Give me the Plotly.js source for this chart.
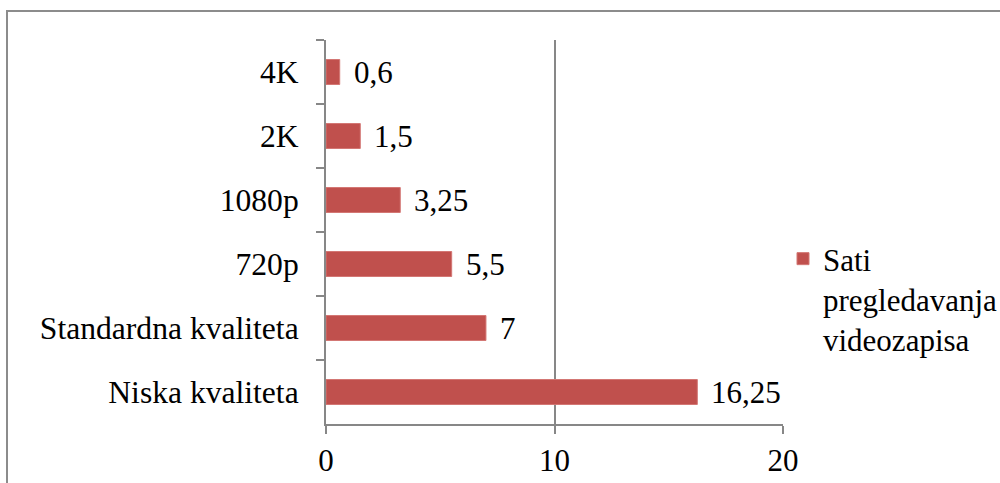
<!DOCTYPE html>
<html>
<head>
<meta charset="utf-8">
<script src="https://cdn.plot.ly/plotly-3.0.1.min.js"></script>
<style>
html,body{margin:0;padding:0;background:#fff;overflow:hidden;}
#frame{position:absolute;left:6px;top:10px;width:1100px;height:600px;border:2px solid #8c8c8c;box-sizing:border-box;}
#chart{position:absolute;left:0;top:0;width:1000px;height:483px;}
</style>
</head>
<body>
<div id="frame"></div>
<div id="chart"></div>
<script>
const categories = ["4K", "2K", "1080p", "720p", "Standardna kvaliteta", "Niska kvaliteta"];
const values = [0.6, 1.5, 3.25, 5.5, 7, 16.25];
const seriesName = "Sati<br>pregledavanja<br>videozapisa";
const xTicks = [0, 10, 20];

const labels = values.map(v => String(v).replace('.', ','));
const font = {family: "Liberation Serif", size: 31, color: "#000"};
const catFont = {family: "Liberation Serif", size: 31.6, color: "#000"};

const trace = {
  type: "bar",
  orientation: "h",
  y: categories,
  x: values,
  name: seriesName,
  marker: {color: "#C0504D", line: {color: "#D37673", width: 1}},
  hoverinfo: "x+y"
};

const annotations = values.map((v, i) => ({
  x: v,
  y: categories[i],
  xref: "x",
  yref: "y",
  text: labels[i],
  showarrow: false,
  xanchor: "left",
  yanchor: "middle",
  xshift: 12,
  font: font
}));

const layout = {
  width: 1000,
  height: 483,
  margin: {l: 326, r: 216, t: 40, b: 59},
  paper_bgcolor: "rgba(0,0,0,0)",
  plot_bgcolor: "rgba(0,0,0,0)",
  font: font,
  bargap: 0.61,
  showlegend: true,
  annotations: annotations,
  legend: {
    xref: "container", yref: "container",
    x: 0.783, xanchor: "left",
    y: 1 - 232 / 483, yanchor: "top",
    font: font, valign: "top",
    bgcolor: "rgba(0,0,0,0)",
    itemwidth: 30,
    tracegroupgap: 0
  },
  xaxis: {
    range: [0, 20],
    tickvals: xTicks,
    ticktext: xTicks.map(String),
    ticks: "outside",
    ticklen: 8,
    tickcolor: "#878787",
    tickwidth: 2,
    showline: true,
    linecolor: "#878787",
    linewidth: 2,
    showgrid: true,
    gridcolor: "#878787",
    gridwidth: 2,
    zeroline: false,
    tickfont: font,
    automargin: false,
    fixedrange: true
  },
  yaxis: {
    type: "category",
    autorange: "reversed",
    ticks: "outside",
    tickson: "boundaries",
    ticklen: 8,
    tickcolor: "#878787",
    tickwidth: 2,
    showline: true,
    linecolor: "#878787",
    linewidth: 2,
    showgrid: false,
    zeroline: false,
    tickfont: catFont,
    ticklabelstandoff: 19,
    automargin: false,
    fixedrange: true
  }
};

Plotly.newPlot("chart", [trace], layout, {staticPlot: true, displayModeBar: false});
</script>
</body>
</html>
